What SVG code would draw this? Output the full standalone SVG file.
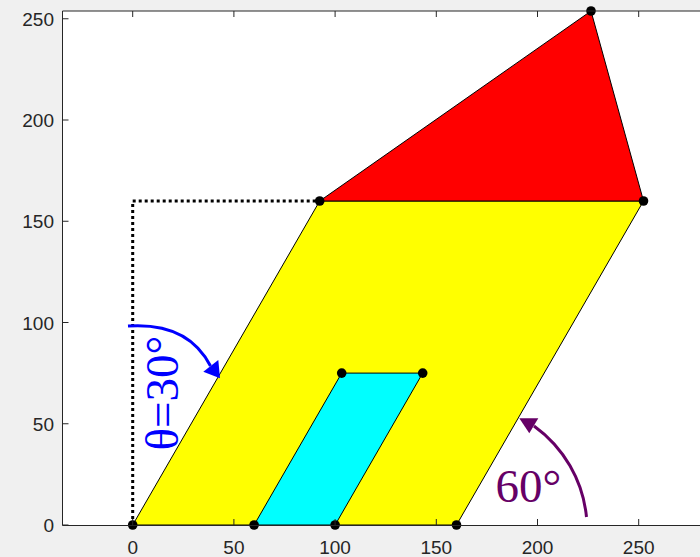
<svg xmlns="http://www.w3.org/2000/svg" width="700" height="557" viewBox="0 0 700 557">
<style>
.ax{stroke:#262626;stroke-width:1;fill:none}
.tl{font-family:"Liberation Sans",Arial,sans-serif;font-size:19px;fill:#262626}
.poly{stroke:#000;stroke-width:1;stroke-linejoin:round}
.dot{fill:#000}
.lab{font-family:"Liberation Serif","Times New Roman",serif;font-size:47px}
</style>
<rect x="0" y="0" width="700" height="557" fill="#F0F0F0"/>
<rect x="62.5" y="11" width="640" height="514" fill="#FFFFFF"/>
<g id="shapes">
<polygon id="yellow" class="poly" fill="#FFFF00" points="132.7,525 456.5,525 643.5,201 319.7,201"/>
<polygon id="red" class="poly" fill="#FF0000" points="319.7,201 643.5,201 591,11"/>
<polygon id="cyan" class="poly" fill="#00FFFF" points="254.1,525 335.1,525 422.7,373.1 341.7,373.1"/>
</g>
<g id="connectors">
<polyline points="132.7,525 132.7,201 319.7,201" fill="none" stroke="#000" stroke-width="3" stroke-dasharray="3 3"/>
<path d="M128,326 Q188,322 210.5,366" fill="none" stroke="#0000FF" stroke-width="3"/>
<polygon points="220,378.3 203.3,371.7 218.3,360" fill="#0000FF"/>
<path d="M586.5,517 A128,128 0 0 0 534,426" fill="none" stroke="#660066" stroke-width="3"/>
<polygon points="519.3,418.3 538.3,418.3 529.3,433.3" fill="#660066"/>
</g>
<g id="points">
<circle class="dot" cx="132.7" cy="525" r="4.8"/>
<circle class="dot" cx="254.1" cy="525" r="4.8"/>
<circle class="dot" cx="335.1" cy="525" r="4.8"/>
<circle class="dot" cx="456.5" cy="525" r="4.8"/>
<circle class="dot" cx="341.7" cy="373.1" r="4.8"/>
<circle class="dot" cx="422.7" cy="373.1" r="4.8"/>
<circle class="dot" cx="319.7" cy="201" r="4.8"/>
<circle class="dot" cx="643.5" cy="201" r="4.8"/>
<circle class="dot" cx="591" cy="11" r="4.8"/>
</g>
<g id="axes">
<path class="ax" d="M62.5,11 V525.5 H700 M62.5,11 H700"/>
<path class="ax" d="M132.7,525 v-6 M233.9,525 v-6 M335.1,525 v-6 M436.3,525 v-6 M537.5,525 v-6 M638.7,525 v-6 M132.7,11 v6 M233.9,11 v6 M335.1,11 v6 M436.3,11 v6 M537.5,11 v6 M638.7,11 v6 M62.5,525 h6 M62.5,423.75 h6 M62.5,322.5 h6 M62.5,221.25 h6 M62.5,120 h6 M62.5,18.75 h6"/>
<g class="tl" text-anchor="middle">
<text x="132.7" y="554">0</text>
<text x="233.9" y="554">50</text>
<text x="335.1" y="554">100</text>
<text x="436.3" y="554">150</text>
<text x="537.5" y="554">200</text>
<text x="638.7" y="554">250</text>
</g>
<g class="tl" text-anchor="end">
<text x="54" y="532">0</text>
<text x="54" y="430.75">50</text>
<text x="54" y="329.5">100</text>
<text x="54" y="228.25">150</text>
<text x="54" y="127">200</text>
<text x="54" y="25.75">250</text>
</g>
</g>
<g id="labels">
<text class="lab" fill="#0000FF" text-anchor="middle" transform="translate(177.5,393) rotate(-90)">θ=30°</text>
<text class="lab" fill="#660066" x="495.5" y="501.5">60°</text>
</g>
</svg>
